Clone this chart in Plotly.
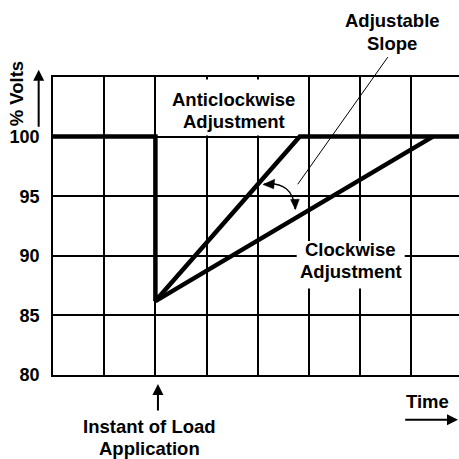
import plotly.graph_objects as go

# Generator output voltage (% of nominal) after a load step; time in grid divisions
t_anticlockwise = [0, 2, 2, 4.82, 8.2]
v_anticlockwise = [100, 100, 86.2, 100, 100]
t_clockwise = [2, 7.42]
v_clockwise = [86.2, 100]

volt_ticks = [80, 85, 90, 95, 100]
volt_labels = ["80", "85", "90", "95", "100"]
time_grid = [1, 2, 3, 4, 5, 6, 7]

X_RANGE = [0, 7.93]
Y_RANGE = [80, 105]

W, H = 459, 459
M_L, M_R, M_T, M_B = 53, 0, 77, 84
PX_PER_X = (W - M_L - M_R) / (X_RANGE[1] - X_RANGE[0])
PX_PER_Y = (H - M_T - M_B) / (Y_RANGE[1] - Y_RANGE[0])

FONT = "Liberation Sans, Arial, sans-serif"
INK = "black"


def to_paper(x, y):
    px = (x - X_RANGE[0]) / (X_RANGE[1] - X_RANGE[0])
    py = (y - Y_RANGE[0]) / (Y_RANGE[1] - Y_RANGE[0])
    return px, py


def path(points, close=False):
    parts = []
    for i, (x, y) in enumerate(points):
        px, py = to_paper(x, y)
        parts.append(("M" if i == 0 else "L") + f" {px:.5f} {py:.5f}")
    return " ".join(parts) + (" Z" if close else "")


fig = go.Figure()

fig.add_trace(go.Scatter(
    x=t_anticlockwise, y=v_anticlockwise, mode="lines",
    line=dict(color=INK, width=4.5), hoverinfo="skip", showlegend=False,
))
fig.add_trace(go.Scatter(
    x=t_clockwise, y=v_clockwise, mode="lines",
    line=dict(color=INK, width=4.5), hoverinfo="skip", showlegend=False,
))

shapes = []
# white panels behind the two adjustment labels (hide the grid there)
for x0, x1, y0, y1 in [(2.1, 4.92, 100.1, 104.8), (4.76, 6.87, 87.25, 91.25)]:
    shapes.append(dict(type="rect", xref="x", yref="y", x0=x0, x1=x1, y0=y0, y1=y1,
                       fillcolor="white", line=dict(width=0), layer="between"))

# leader from "Adjustable Slope"
a = to_paper(6.54, 106.67)
b = to_paper(4.78, 96.0)
shapes.append(dict(type="line", xref="paper", yref="paper",
                   x0=a[0], y0=a[1], x1=b[0], y1=b[1], line=dict(color=INK, width=1)))

# curved double-headed arrow between the two slopes
p0 = to_paper(4.121, 96.02)
c = to_paper(4.688, 96.27)
p2 = to_paper(4.727, 93.93)
shapes.append(dict(type="path", xref="paper", yref="paper",
                   path=f"M {p0[0]:.5f} {p0[1]:.5f} Q {c[0]:.5f} {c[1]:.5f} {p2[0]:.5f} {p2[1]:.5f}",
                   line=dict(color=INK, width=1.3)))
shapes.append(dict(type="path", xref="paper", yref="paper",
                   path=path([(4.10, 95.98), (4.33, 96.42), (4.31, 95.62)], close=True),
                   fillcolor=INK, line=dict(color=INK, width=0.5)))
shapes.append(dict(type="path", xref="paper", yref="paper",
                   path=path([(4.735, 93.88), (4.64, 94.72), (4.81, 94.74)], close=True),
                   fillcolor=INK, line=dict(color=INK, width=0.5)))

annotations = []


def label(lines, x, y, spacing=1.85, angle=0):
    for i, s in enumerate(lines):
        px, py = to_paper(x, y - i * spacing)
        annotations.append(dict(
            x=px, y=py, xref="paper", yref="paper", text=s, showarrow=False,
            xanchor="center", yanchor="middle", textangle=angle,
            font=dict(family=FONT, size=18.5, color=INK, weight="bold"),
        ))


label(["Adjustable", "Slope"], 6.63, 109.7)
label(["Anticlockwise", "Adjustment"], 3.53, 103.1)
label(["Clockwise", "Adjustment"], 5.82, 90.5)
label(["Instant of Load", "Application"], 1.89, 75.7)
label(["Time"], 7.32, 77.75)
label(["% Volts"], -0.71, 103.6, angle=-90)


def arrow(x0, y0, x1, y1):
    tip = to_paper(x1, y1)
    annotations.append(dict(
        x=tip[0], y=tip[1], xref="paper", yref="paper",
        ax=(x0 - x1) * PX_PER_X, ay=-(y0 - y1) * PX_PER_Y,
        text="", showarrow=True, arrowhead=2, arrowsize=1.1, arrowwidth=2,
        arrowcolor=INK, standoff=0, startstandoff=0,
    ))


arrow(-0.28, 100.7, -0.28, 105.6)
arrow(2.05, 76.9, 2.05, 79.25)
arrow(6.85, 76.25, 7.92, 76.25)

fig.update_layout(
    width=W, height=H,
    margin=dict(l=M_L, r=M_R, t=M_T, b=M_B),
    paper_bgcolor="white", plot_bgcolor="white",
    shapes=shapes, annotations=annotations,
    showlegend=False,
    xaxis=dict(
        range=X_RANGE, tickvals=time_grid, showticklabels=False, ticks="",
        showgrid=True, gridcolor=INK, gridwidth=1.8, zeroline=False,
        showline=True, linecolor=INK, linewidth=1.8, mirror=True,
        fixedrange=True,
    ),
    yaxis=dict(
        range=Y_RANGE, tickvals=volt_ticks, ticktext=volt_labels, ticks="",
        showgrid=True, gridcolor=INK, gridwidth=1.8, zeroline=False,
        showline=True, linecolor=INK, linewidth=1.8,
        tickfont=dict(family=FONT, size=18, color=INK, weight="bold"),
        ticklabelstandoff=8, fixedrange=True,
    ),
)

fig.write_html("out.html", config={"displayModeBar": False})
